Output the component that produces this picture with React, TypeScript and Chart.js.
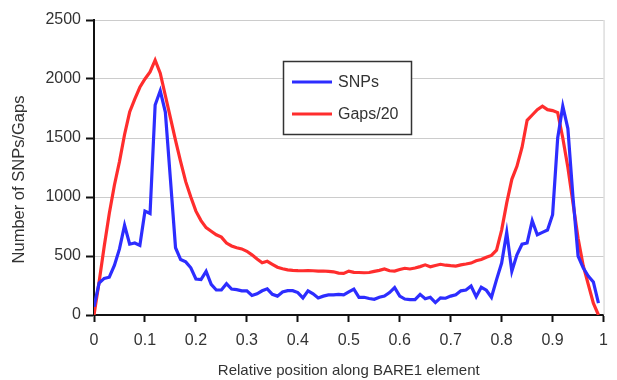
import React, { useEffect, useRef } from "react";
import { Chart, registerables } from "chart.js";

Chart.register(...registerables);

const positions = [
  0.0, 0.01, 0.02, 0.03, 0.04, 0.05, 0.06, 0.07, 0.08, 0.09,
  0.1, 0.11, 0.12, 0.13, 0.14, 0.15, 0.16, 0.17, 0.18, 0.19,
  0.2, 0.21, 0.22, 0.23, 0.24, 0.25, 0.26, 0.27, 0.28, 0.29,
  0.3, 0.31, 0.32, 0.33, 0.34, 0.35, 0.36, 0.37, 0.38, 0.39,
  0.4, 0.41, 0.42, 0.43, 0.44, 0.45, 0.46, 0.47, 0.48, 0.49,
  0.5, 0.51, 0.52, 0.53, 0.54, 0.55, 0.56, 0.57, 0.58, 0.59,
  0.6, 0.61, 0.62, 0.63, 0.64, 0.65, 0.66, 0.67, 0.68, 0.69,
  0.7, 0.71, 0.72, 0.73, 0.74, 0.75, 0.76, 0.77, 0.78, 0.79,
  0.8, 0.81, 0.82, 0.83, 0.84, 0.85, 0.86, 0.87, 0.88, 0.89,
  0.9, 0.91, 0.92, 0.93, 0.94, 0.95, 0.96, 0.97, 0.98, 0.99,
];

const snps = [
  70, 270, 310, 320, 420, 560, 760, 600, 610, 590,
  880, 860, 1780, 1900, 1720, 1150, 570, 470, 450, 400,
  305, 300, 370, 260, 212, 212, 265, 220, 215, 205,
  205, 165, 180, 205, 222, 175, 160, 195, 206, 206,
  190, 145, 205, 180, 145, 160, 170, 170, 175, 170,
  195, 220, 150, 150, 140, 133, 150, 160, 190, 232,
  160, 135, 130, 130, 175, 138, 150, 105, 145, 142,
  160, 172, 205, 212, 245, 155, 235, 210, 150, 300,
  440, 700, 370, 510, 600, 610, 800, 680, 700, 720,
  850, 1500, 1770, 1580, 1000, 500, 400, 330, 280, 100,
];

const gapsOver20 = [
  0, 280, 580, 860, 1100, 1300, 1530, 1720, 1830, 1930,
  2000, 2060, 2160, 2050, 1860, 1670, 1480, 1300, 1130, 1000,
  880, 800, 740, 710, 680, 660, 610, 585, 570, 560,
  540, 510, 475, 443, 455, 430, 405, 392, 382, 378,
  376, 375, 376, 375, 372, 373, 370, 366, 355, 352,
  372, 362, 360, 358, 360, 370, 378, 390, 375, 372,
  385, 396, 390, 398, 410, 425, 408, 420, 430, 422,
  418, 415, 425, 432, 440, 460, 470, 490, 505, 550,
  720, 950, 1150, 1260, 1420, 1650, 1695, 1740, 1770, 1740,
  1732, 1715, 1500, 1250, 950, 650, 420, 260, 100, 0,
];

const seriesLabels = ["SNPs", "Gaps/20"];
const seriesColors = ["#2d2dff", "#ff2d2d"];
const xTitle = "Relative position along BARE1 element";
const yTitle = "Number of SNPs/Gaps";

const FONT = "'Liberation Sans', Arial, sans-serif";
const TEXT = "#333333";

const boxLegend = {
  id: "boxLegend",
  afterDatasetsDraw(chart: any) {
    const ctx = chart.ctx;
    const ds = chart.data.datasets;
    const x0 = 283.5, y0 = 61.5, w = 128, h = 73;
    ctx.save();
    ctx.fillStyle = "#ffffff";
    ctx.fillRect(x0, y0, w, h);
    ctx.strokeStyle = "#333333";
    ctx.lineWidth = 1.5;
    ctx.strokeRect(x0, y0, w, h);
    ctx.font = "16px " + FONT;
    ctx.textBaseline = "middle";
    ctx.textAlign = "left";
    ds.forEach((d: any, i: number) => {
      const y = 82 + i * 32;
      ctx.strokeStyle = d.borderColor;
      ctx.lineWidth = 3;
      ctx.beginPath();
      ctx.moveTo(292, y);
      ctx.lineTo(332, y);
      ctx.stroke();
      ctx.fillStyle = TEXT;
      ctx.fillText(d.label, 338, y + 1);
    });
    ctx.restore();
  },
};

const yAxisTitle = {
  id: "yAxisTitle",
  afterDraw(chart: any) {
    const { ctx, chartArea } = chart;
    ctx.save();
    ctx.translate(19, (chartArea.top + chartArea.bottom) / 2 + 12);
    ctx.rotate(-Math.PI / 2);
    ctx.font = "16.5px " + FONT;
    ctx.fillStyle = TEXT;
    ctx.textAlign = "center";
    ctx.textBaseline = "middle";
    ctx.fillText(yTitle, 0, 0);
    ctx.restore();
  },
};

const rightBorder = {
  id: "rightBorder",
  beforeDatasetsDraw(chart: any) {
    const { ctx, chartArea } = chart;
    ctx.save();
    ctx.strokeStyle = "#cccccc";
    ctx.lineWidth = 1;
    ctx.beginPath();
    ctx.moveTo(chartArea.right + 0.5, chartArea.top);
    ctx.lineTo(chartArea.right + 0.5, chartArea.bottom);
    ctx.stroke();
    ctx.restore();
  },
};

export default function App() {
  const ref = useRef<HTMLCanvasElement>(null);
  useEffect(() => {
    document.body.style.margin = "0";
    const canvas = ref.current!;
    const chart = new Chart(canvas, {
      type: "line",
      data: {
        datasets: [
          {
            label: seriesLabels[0],
            data: positions.map((x, i) => ({ x, y: snps[i] })),
            borderColor: seriesColors[0],
            backgroundColor: seriesColors[0],
            borderWidth: 3.2,
            pointRadius: 0,
            tension: 0,
          },
          {
            label: seriesLabels[1],
            data: positions.map((x, i) => ({ x, y: gapsOver20[i] })),
            borderColor: seriesColors[1],
            backgroundColor: seriesColors[1],
            borderWidth: 3.2,
            pointRadius: 0,
            tension: 0,
          },
        ],
      },
      options: {
        animation: false,
        responsive: false,
        layout: { padding: { left: 0, right: 5, top: 20, bottom: 0 } },
        plugins: { legend: { display: false }, tooltip: { enabled: false } },
        scales: {
          x: {
            type: "linear",
            min: 0,
            max: 1,
            afterFit: (s: any) => {
              s.height = 65;
            },
            ticks: {
              stepSize: 0.1,
              color: TEXT,
              font: { family: FONT, size: 16 },
              padding: 9,
              maxRotation: 0,
              callback: (v: any) => String(Number(Number(v).toFixed(1))),
            },
            grid: {
              drawOnChartArea: false,
              tickLength: 7,
              tickColor: "#111111",
              tickWidth: 2,
            },
            border: { color: "#111111", width: 2 },
            title: {
              display: true,
              text: xTitle,
              color: TEXT,
              font: { family: FONT, size: 15 },
              padding: { top: 0, bottom: 0 },
            },
          },
          y: {
            min: 0,
            max: 2500,
            afterFit: (s: any) => {
              s.width = 94;
            },
            ticks: {
              stepSize: 500,
              color: TEXT,
              font: { family: FONT, size: 16 },
              padding: 5,
              callback: (v: any) => String(v),
            },
            grid: {
              color: "#cccccc",
              lineWidth: 1,
              tickLength: 8,
              tickColor: "#111111",
              tickWidth: 2,
            },
            border: { color: "#111111", width: 2 },
            title: { display: false },
          },
        },
      },
      plugins: [rightBorder, boxLegend, yAxisTitle],
    });
    return () => chart.destroy();
  }, []);
  return (
    <div style={{ width: 617, height: 380 }}>
      <canvas ref={ref} width={617} height={380} />
    </div>
  );
}
